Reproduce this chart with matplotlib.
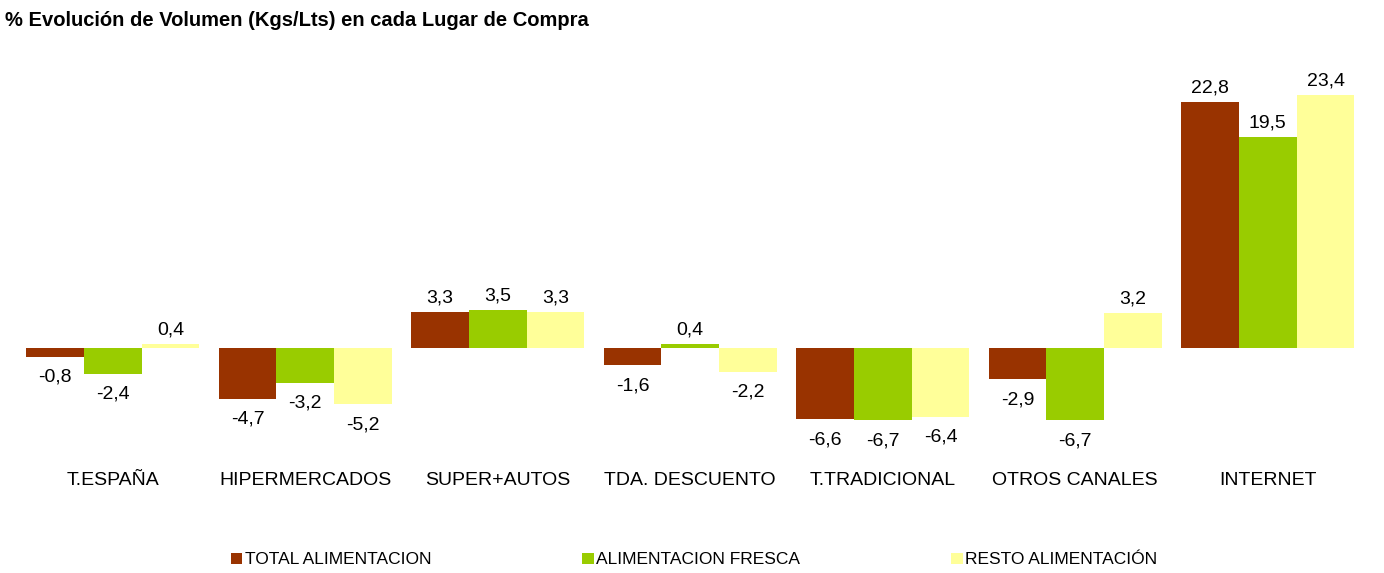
import matplotlib
matplotlib.use("Agg")
import matplotlib.pyplot as plt
from matplotlib.patches import Patch
import numpy as np

categories = ["T.ESPAÑA", "HIPERMERCADOS", "SUPER+AUTOS", "TDA. DESCUENTO",
              "T.TRADICIONAL", "OTROS CANALES", "INTERNET"]
series_names = ["TOTAL ALIMENTACION", "ALIMENTACION FRESCA", "RESTO ALIMENTACIÓN"]
total_alim = [-0.8, -4.7, 3.3, -1.6, -6.6, -2.9, 22.8]
alim_fresca = [-2.4, -3.2, 3.5, 0.4, -6.7, -6.7, 19.5]
resto_alim = [0.4, -5.2, 3.3, -2.2, -6.4, 3.2, 23.4]
colors = ["#993300", "#99CC00", "#FFFF99"]
title = "% Evolución de Volumen (Kgs/Lts) en cada Lugar de Compra"

plt.rcParams['font.family'] = ['Liberation Sans', 'DejaVu Sans']

W, H = 1384, 573
fig = plt.figure(figsize=(W / 100, H / 100), dpi=100)
left = 16.6 / W
right = 1364 / W
top_px, bot_px = 67, 450.7
ax = fig.add_axes([left, 1 - bot_px / H, right - left, (bot_px - top_px) / H])

x = np.arange(len(categories))
bw = 0.30
all_series = [total_alim, alim_fresca, resto_alim]
for i, (vals, col, name) in enumerate(zip(all_series, colors, series_names)):
    pos = x + (i - 1) * bw
    ax.bar(pos, vals, width=bw, color=col, label=name, edgecolor='none')
    for xp, v in zip(pos, vals):
        txt = f"{v:.1f}".replace('.', ',')
        if v >= 0:
            ax.annotate(txt, (xp, v), xytext=(0, 4), textcoords='offset points',
                        ha='center', va='bottom', fontsize=14)
        else:
            ax.annotate(txt, (xp, v), xytext=(0, -8.5), textcoords='offset points',
                        ha='center', va='top', fontsize=14)

ax.set_xlim(-0.5, len(categories) - 0.5)
ax.set_ylim(-9.5, 26)
ax.set_xticks(x)
ax.set_xticklabels(categories, fontsize=14)
ax.tick_params(axis='x', length=0, pad=15.5)
ax.set_yticks([])
for s in ax.spines.values():
    s.set_visible(False)

handles = [Patch(facecolor=c, edgecolor='none') for c in colors]
fig.legend(handles, series_names, loc='center left',
           bbox_to_anchor=(231 / W, 1 - 560 / H), ncol=3, frameon=False,
           fontsize=12.5, handlelength=0.65, handleheight=0.65, handletextpad=0.15,
           columnspacing=8.7, borderpad=0, borderaxespad=0)

fig.text(5 / W, 1 - 20 / H, title, fontsize=14.5, fontweight='bold',
         ha='left', va='center')

fig.savefig("out.png", dpi=100)
